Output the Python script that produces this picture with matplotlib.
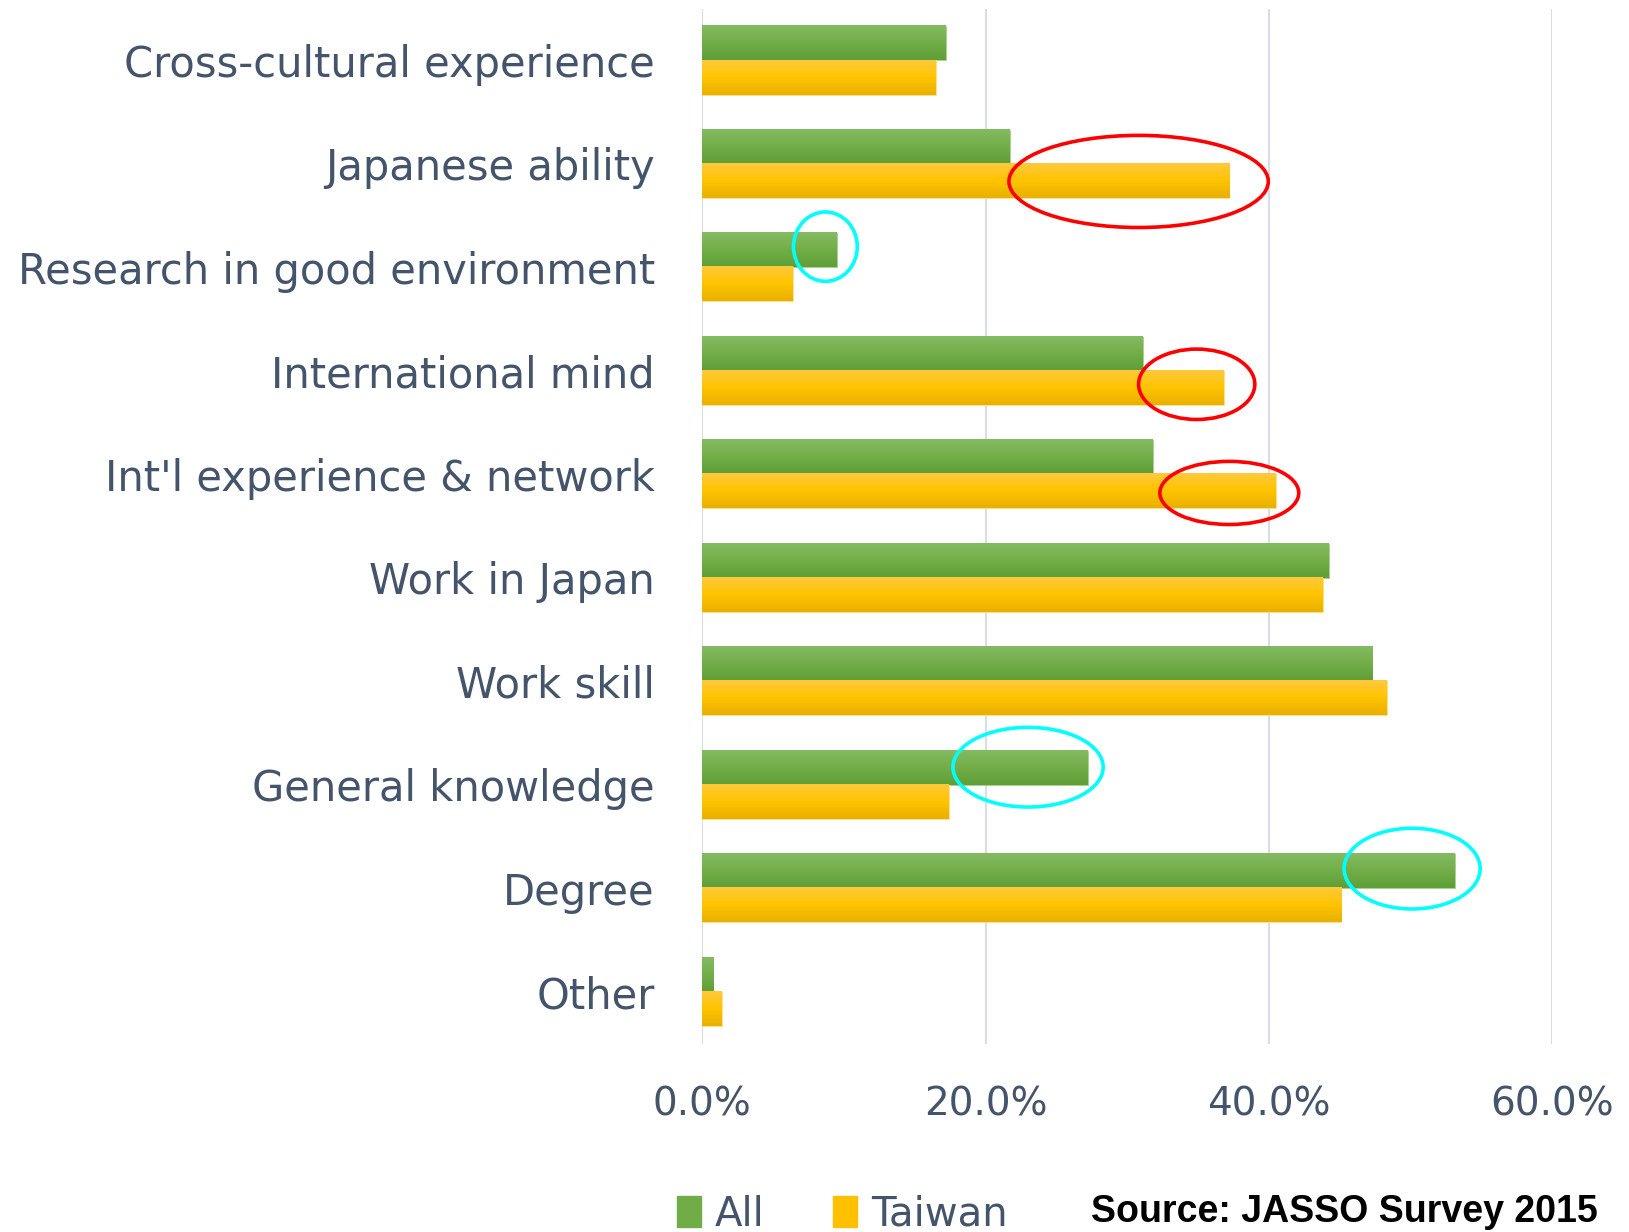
import numpy as np
import matplotlib
matplotlib.use('Agg')
import matplotlib.pyplot as plt
from matplotlib.patches import Ellipse, Patch
from matplotlib.colors import LinearSegmentedColormap

categories = ['Cross-cultural experience', 'Japanese ability', 'Research in good environment',
              'International mind', "Int'l experience & network", 'Work in Japan',
              'Work skill', 'General knowledge', 'Degree', 'Other']
all_vals = [17.2, 21.7, 9.5, 31.1, 31.8, 44.2, 47.3, 27.2, 53.1, 0.8]
taiwan_vals = [16.5, 37.2, 6.4, 36.8, 40.5, 43.8, 48.3, 17.4, 45.1, 1.4]

# highlight circles: (x centre %, category row, width %, height rows)
red_marks = [(30.8, 1.17, 18.3, 0.89), (34.9, 3.13, 8.2, 0.68), (37.2, 4.18, 9.8, 0.61)]
cyan_marks = [(8.7, 1.80, 4.5, 0.67), (23.0, 6.83, 10.6, 0.77), (50.1, 7.81, 9.6, 0.78)]

text_col = '#44546a'
green = '#70ad47'
yellow = '#ffc000'
green_cm = LinearSegmentedColormap.from_list('g', ['#84bb62', '#72ae49', '#5f9f37'])
yellow_cm = LinearSegmentedColormap.from_list('y', ['#ffc93c', '#ffc400', '#e8b000'])

fig = plt.figure(figsize=(16.29, 12.32), dpi=100)
ax = fig.add_axes([0.431, 0.153, 0.522, 0.84])

y = np.arange(len(categories))
h = 0.33
grad = np.linspace(0, 1, 64).reshape(-1, 1)
bars_a = ax.barh(y - h / 2, all_vals, height=h, color=green, edgecolor='#a9d18e', linewidth=0.6, zorder=3)
bars_t = ax.barh(y + h / 2, taiwan_vals, height=h, color=yellow, edgecolor='#ffe08a', linewidth=0.6, zorder=3)
for bars, cm in ((bars_a, green_cm), (bars_t, yellow_cm)):
    for b in bars:
        x0, y0, w, hh = b.get_x(), b.get_y(), b.get_width(), b.get_height()
        ax.imshow(grad, cmap=cm, aspect='auto', extent=(x0, x0 + w, y0 + hh, y0),
                  zorder=3.5, interpolation='bilinear')

for cx, cy, w, hh in red_marks:
    ax.add_patch(Ellipse((cx, cy), w, hh, fill=False, edgecolor='#ff0000', lw=2.6, zorder=5, clip_on=False))
for cx, cy, w, hh in cyan_marks:
    ax.add_patch(Ellipse((cx, cy), w, hh, fill=False, edgecolor='#00ffff', lw=2.6, zorder=5, clip_on=False))

ax.set_xlim(0, 60)
ax.set_ylim(len(categories) - 0.5, -0.5)
ax.set_xticks([0, 20, 40, 60])
ax.set_xticklabels(['0.0%', '20.0%', '40.0%', '60.0%'])
ax.set_yticks(y)
ax.set_yticklabels(categories)
ax.tick_params(axis='both', length=0, labelcolor=text_col)
ax.tick_params(axis='x', pad=30, labelsize=28)
ax.tick_params(axis='y', pad=34, labelsize=30)

ax.grid(axis='x', color='#d9dde6', lw=1.5, zorder=0)
for s in ax.spines.values():
    s.set_visible(False)

handles = [Patch(color=green, label='All'), Patch(color=yellow, label='Taiwan')]
fig.legend(handles=handles, loc='center', bbox_to_anchor=(0.517, 0.014), ncol=2, frameon=False,
           prop={'size': 29}, labelcolor=text_col, handlelength=0.6,
           handleheight=0.8, handletextpad=0.35, columnspacing=1.7)

fig.text(0.981, 0.016, 'Source: JASSO Survey 2015', ha='right', va='center',
         fontsize=27, fontweight='bold', family='Liberation Sans', color='black')

fig.savefig('out.png', dpi=100, facecolor='white')
